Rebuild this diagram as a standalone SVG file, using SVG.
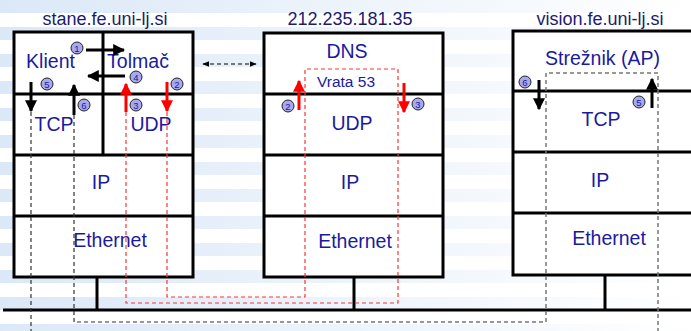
<svg xmlns="http://www.w3.org/2000/svg" width="691" height="331" viewBox="0 0 691 331">
<defs>
<linearGradient id="fade" x1="0" y1="0" x2="1" y2="0">
<stop offset="0" stop-color="#dbe8f7"/>
<stop offset="1" stop-color="#ffffff"/>
</linearGradient>
<pattern id="stripes" width="691" height="27" patternUnits="userSpaceOnUse">
<rect x="0" y="0" width="691" height="13" fill="url(#fade)"/>
</pattern>
<marker id="ab" viewBox="0 0 10 10" refX="9" refY="5" markerWidth="4" markerHeight="4" orient="auto"><path d="M0,0 L10,5 L0,10 Z" fill="#000"/></marker>
<marker id="ar" viewBox="0 0 10 10" refX="9" refY="5" markerWidth="4" markerHeight="4" orient="auto"><path d="M0,0 L10,5 L0,10 Z" fill="#f00"/></marker>
<marker id="as" viewBox="0 0 10 10" refX="9" refY="5" markerWidth="6" markerHeight="6" orient="auto"><path d="M0,1 L10,5 L0,9 Z" fill="#000"/></marker>
<marker id="as2" viewBox="0 0 10 10" refX="1" refY="5" markerWidth="6" markerHeight="6" orient="auto"><path d="M10,1 L0,5 L10,9 Z" fill="#000"/></marker>
</defs>
<style>
.box{fill:#fff;stroke:#000;stroke-width:3}
.ln{stroke:#000;stroke-width:3;fill:none}
.host{font-family:"Liberation Sans",Arial,sans-serif;font-size:18px;fill:#1c1c6e;text-anchor:middle}
.lay{font-family:"Liberation Sans",Arial,sans-serif;font-size:19.5px;fill:#1a1aa0;text-anchor:middle}
.small{font-family:"Liberation Sans",Arial,sans-serif;font-size:15.5px;fill:#1a1aa0;text-anchor:middle}
.arb{stroke:#000;stroke-width:3;fill:none;marker-end:url(#ab)}
.arr{stroke:#f00;stroke-width:3;fill:none;marker-end:url(#ar)}
.dk{stroke:#333;stroke-width:1.2;stroke-dasharray:4 3;fill:none}
.dg{stroke:#777;stroke-width:1.5;stroke-dasharray:4 3;fill:none}
.dr{stroke:#f33;stroke-width:1.2;stroke-dasharray:4 3;fill:none}
.num circle{fill:#a8a8ec;stroke:#222;stroke-width:1}
.num text{font-family:"Liberation Sans",Arial,sans-serif;font-size:9.5px;fill:#1a1aa0;text-anchor:middle}
</style>
<rect width="691" height="331" fill="#fff"/>
<rect width="691" height="331" fill="url(#stripes)"/>

<g id="host-stane">
<text class="host" x="105" y="25">stane.fe.uni-lj.si</text>
<rect class="box" x="14" y="32" width="179" height="245"/>
<line class="ln" x1="14" y1="94" x2="193" y2="94"/>
<line class="ln" x1="14" y1="155" x2="193" y2="155"/>
<line class="ln" x1="14" y1="216" x2="193" y2="216"/>
<line class="ln" x1="103" y1="32" x2="103" y2="155"/>
<text class="lay" x="50.5" y="68">Klient</text>
<text class="lay" x="138" y="68">Tolmač</text>
<text class="lay" x="54" y="131">TCP</text>
<text class="lay" x="151" y="131">UDP</text>
<text class="lay" x="101" y="189">IP</text>
<text class="lay" x="110" y="247">Ethernet</text>
</g>

<g id="host-dns">
<text class="host" x="350" y="25">212.235.181.35</text>
<rect class="box" x="264" y="33" width="179" height="244"/>
<line class="ln" x1="264" y1="94" x2="443" y2="94"/>
<line class="ln" x1="264" y1="155" x2="443" y2="155"/>
<line class="ln" x1="264" y1="216" x2="443" y2="216"/>
<text class="lay" x="347" y="58">DNS</text>
<text class="small" x="346" y="87">Vrata 53</text>
<text class="lay" x="352" y="130">UDP</text>
<text class="lay" x="350" y="189">IP</text>
<text class="lay" x="355" y="248">Ethernet</text>
</g>

<g id="host-vision">
<text class="host" x="600" y="25">vision.fe.uni-lj.si</text>
<rect class="box" x="513" y="31" width="190" height="244"/>
<line class="ln" x1="513" y1="91" x2="691" y2="91"/>
<line class="ln" x1="513" y1="152" x2="691" y2="152"/>
<line class="ln" x1="513" y1="213" x2="691" y2="213"/>
<text class="lay" x="602.5" y="65">Strežnik (AP)</text>
<text class="lay" x="601" y="126">TCP</text>
<text class="lay" x="600" y="187">IP</text>
<text class="lay" x="609" y="245">Ethernet</text>
</g>

<g id="network">
<line class="ln" x1="3" y1="310" x2="691" y2="310"/>
<line class="ln" x1="97" y1="277" x2="97" y2="310"/>
<line class="ln" x1="354" y1="277" x2="354" y2="310"/>
<line class="ln" x1="605" y1="275" x2="605" y2="310"/>
</g>

<g id="connectors">
<line x1="203" y1="64" x2="256" y2="64" stroke="#000" stroke-width="1.2" stroke-dasharray="4 3" marker-start="url(#as2)" marker-end="url(#as)"/>
<path class="dr" d="M126,112 V303 H398 V69 H305 V297 H167 V112"/>
<path class="dk" d="M31,112 V331"/>
<path class="dk" d="M74,115 V322 H546"/>
<path class="dg" d="M546,322 V73 H658 V331"/>
<path class="arb" d="M86,50 H124"/>
<path class="arb" d="M125,76 H88"/>
<path class="arb" d="M31,82 V111"/>
<path class="arb" d="M74,115 V85"/>
<path class="arr" d="M126,112 V84"/>
<path class="arr" d="M167,82 V111"/>
<path class="arr" d="M299,110 V81"/>
<path class="arr" d="M404,83 V112"/>
<path class="arb" d="M539,80 V109"/>
<path class="arb" d="M652,108 V79"/>
</g>

<g id="labels" class="num">
<circle cx="77" cy="48" r="6"/><text x="77" y="51.5">1</text>
<circle cx="136" cy="77" r="6"/><text x="136" y="80.5">4</text>
<circle cx="47" cy="84" r="6"/><text x="47" y="87.5">5</text>
<circle cx="84" cy="105" r="6"/><text x="84" y="108.5">6</text>
<circle cx="136" cy="105" r="6"/><text x="136" y="108.5">3</text>
<circle cx="177" cy="84" r="6"/><text x="177" y="87.5">2</text>
<circle cx="288" cy="106" r="6"/><text x="288" y="109.5">2</text>
<circle cx="418" cy="104" r="6"/><text x="418" y="107.5">3</text>
<circle cx="525" cy="82" r="6"/><text x="525" y="85.5">6</text>
<circle cx="639" cy="102" r="6"/><text x="639" y="105.5">5</text>
</g>
</svg>
